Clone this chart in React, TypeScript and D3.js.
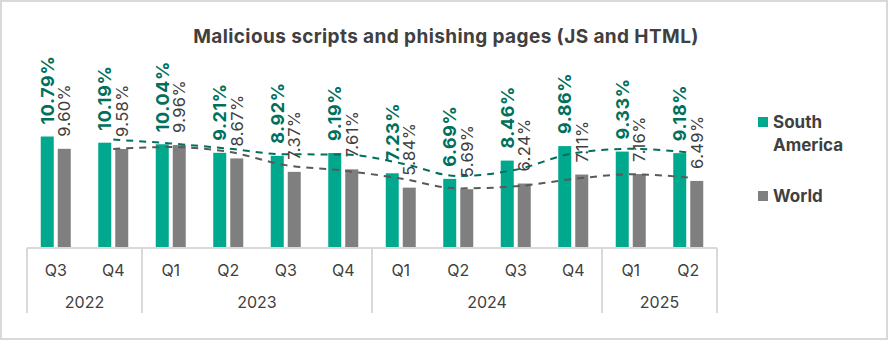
import React from "react";
import * as d3 from "d3";

const title = "Malicious scripts and phishing pages (JS and HTML)";
const quarters = ["Q3", "Q4", "Q1", "Q2", "Q3", "Q4", "Q1", "Q2", "Q3", "Q4", "Q1", "Q2"];
const years = ["2022", "2022", "2023", "2023", "2023", "2023", "2024", "2024", "2024", "2024", "2025", "2025"];
const southAmerica = [10.79, 10.19, 10.04, 9.21, 8.92, 9.19, 7.23, 6.69, 8.46, 9.86, 9.33, 9.18];
const world = [9.6, 9.58, 9.96, 8.67, 7.37, 7.61, 5.84, 5.69, 6.24, 7.11, 7.16, 6.49];
const seriesNames = ["South America", "World"];

const W = 888;
const H = 341;
const GREEN = "#00a88e";
const GREEN_DARK = "#00705c";
const GRAY = "#7f7f7f";
const GRAY_DARK = "#595959";
const TEXT = "#404040";
const AXIS = "#d9d9d9";
const FONT = "Inter, 'Open Sans', Roboto, sans-serif";

// Excel-style 2-period moving-average trendline
function movingAverage(vals: number[]): (number | null)[] {
  return vals.map((v, i) => (i === 0 ? null : (vals[i - 1] + v) / 2));
}

export default function App() {
  const keys = quarters.map((_, i) => String(i));
  const x = d3.scaleBand<string>().domain(keys).range([27, 717]).paddingInner(0).paddingOuter(0);
  const step = x.step();
  const inner = d3
    .scaleBand<string>()
    .domain(seriesNames)
    .range([step / 2 - 15, step / 2 + 15])
    .paddingInner(4 / 17)
    .paddingOuter(0);
  const y = d3.scaleLinear().domain([0, 12]).range([248, 124]);
  const baseY = y(0);

  const cx = (i: number) => (x(String(i)) as number) + step / 2;

  const line = d3
    .line<number | null>()
    .defined((d) => d !== null)
    .x((_, i) => cx(i))
    .y((d) => y(d as number))
    .curve(d3.curveMonotoneX);

  const yearGroups: { year: string; start: number; end: number }[] = [];
  years.forEach((yr, i) => {
    const last = yearGroups[yearGroups.length - 1];
    if (last && last.year === yr) last.end = i;
    else yearGroups.push({ year: yr, start: i, end: i });
  });
  const boundaries = [0, ...yearGroups.map((g) => g.end + 1)].map((i) =>
    i < quarters.length ? (x(String(i)) as number) : (x(String(quarters.length - 1)) as number) + step
  );

  const series = [
    { name: seriesNames[0], values: southAmerica, fill: GREEN, labelFill: GREEN_DARK, weight: 700, size: 18, ls: 0.6, trend: GREEN_DARK },
    { name: seriesNames[1], values: world, fill: GRAY, labelFill: TEXT, weight: 400, size: 16.5, ls: 0.4, trend: GRAY_DARK },
  ];

  return (
    <svg width={W} height={H} style={{ position: "absolute", left: 0, top: 0, background: "#fff" }} fontFamily={FONT}>
      <rect x={1} y={1} width={W - 2} height={H - 3} fill="#fff" stroke={AXIS} strokeWidth={2} />
      <text x={446} y={43} textAnchor="middle" fontSize={19} fontWeight={700} letterSpacing={0.4} fill={TEXT}>
        {title}
      </text>

      {series.map((s) =>
        s.values.map((v, i) => (
          <rect
            key={s.name + i}
            x={(x(String(i)) as number) + (inner(s.name) as number)}
            y={y(v)}
            width={inner.bandwidth()}
            height={baseY - y(v)}
            fill={s.fill}
          />
        ))
      )}

      {series.map((s) => (
        <path
          key={"t" + s.name}
          d={line(movingAverage(s.values)) || ""}
          fill="none"
          stroke={s.trend}
          strokeWidth={2}
          strokeDasharray="7 6"
        />
      ))}

      <line x1={27} x2={717} y1={baseY} y2={baseY} stroke={AXIS} strokeWidth={2} />
      {boundaries.map((bx, i) => (
        <line key={"b" + i} x1={bx} x2={bx} y1={baseY} y2={313} stroke={AXIS} strokeWidth={2} />
      ))}
      {quarters.map((q, i) => (
        <text key={"q" + i} x={cx(i)} y={276} textAnchor="middle" fontSize={16} fill={TEXT}>
          {q}
        </text>
      ))}
      {yearGroups.map((g) => (
        <text
          key={"y" + g.year}
          x={((x(String(g.start)) as number) + (x(String(g.end)) as number) + step) / 2}
          y={308}
          textAnchor="middle"
          fontSize={16}
          fill={TEXT}
        >
          {g.year}
        </text>
      ))}

      {series.map((s) =>
        s.values.map((v, i) => {
          const bx = (x(String(i)) as number) + (inner(s.name) as number) + inner.bandwidth() / 2;
          const by = y(v) - 12;
          return (
            <text
              key={"l" + s.name + i}
              transform={`translate(${bx},${by}) rotate(-90)`}
              dy="0.36em"
              fontSize={s.size}
              fontWeight={s.weight}
              letterSpacing={s.ls}
              fill={s.labelFill}
            >
              {v.toFixed(2) + "%"}
            </text>
          );
        })
      )}

      <rect x={758} y={117} width={10} height={10} fill={GREEN} />
      <text x={773} y={128} fontSize={17} fontWeight={700} fill={TEXT}>
        South
      </text>
      <text x={773} y={151} fontSize={17} fontWeight={700} fill={TEXT}>
        America
      </text>
      <rect x={758} y={191} width={10} height={10} fill={GRAY} />
      <text x={773} y={202} fontSize={17} fontWeight={700} fill={TEXT}>
        World
      </text>
    </svg>
  );
}
